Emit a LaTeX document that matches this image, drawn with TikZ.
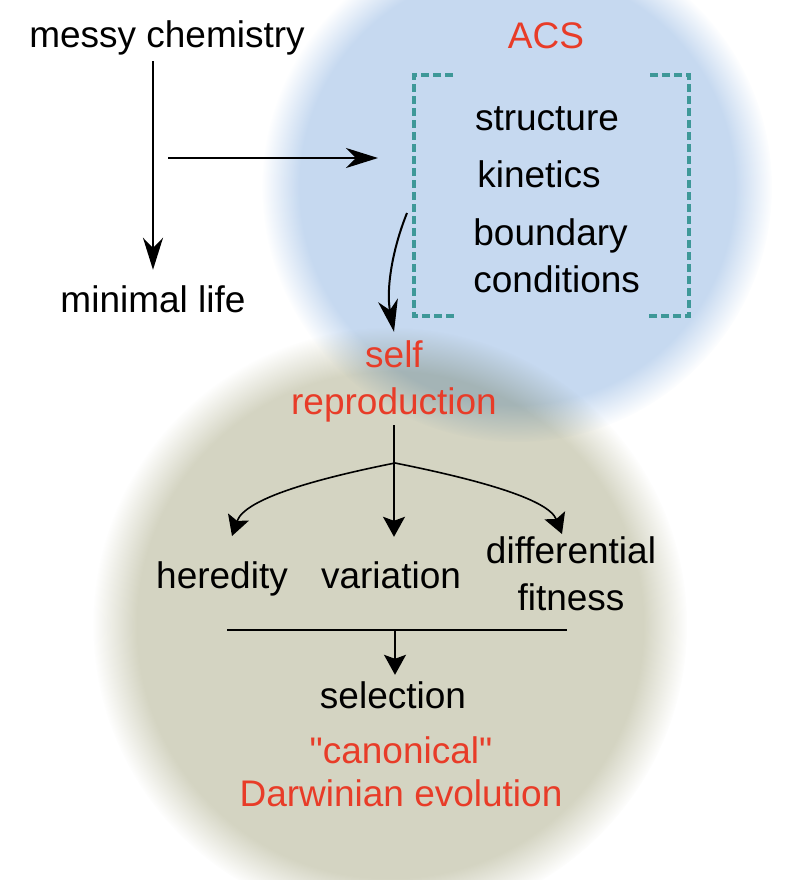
\documentclass[tikz,border=0pt]{standalone}
\usepackage{fontspec}
\setmainfont{Liberation Sans}
\usepackage{xcolor}
\usetikzlibrary{arrows.meta,fadings}
\definecolor{acsblue}{RGB}{198,217,240}
\definecolor{evogray}{RGB}{212,212,194}
\definecolor{acsred}{RGB}{232,60,40}
\definecolor{brackteal}{RGB}{62,152,152}

\begin{document}
\begin{tikzpicture}[x=0.5pt,y=-0.5pt]
            \tikzstyle{every node}+=[inner sep=0pt,font=\fontsize{18.5}{23.5}\selectfont]
            \tikzstyle{word}=[anchor=base,text=black]
            \tikzstyle{redword}=[anchor=base,text=acsred,align=center]
            \tikzstyle{bigarrow}=[line width=1pt,-{Stealth[length=16pt,width=10pt,inset=5pt]}]
            \tikzstyle{smallarrow}=[line width=0.8pt,-{Stealth[length=10pt,width=11pt,inset=2pt]}]
            \tikzstyle{brack}=[brackteal,line width=2pt,dash pattern=on 4pt off 2pt]
            \useasboundingbox (0,0) rectangle (801,880);
            % the two fuzzy discs
            \fill [evogray,path fading=circle with fuzzy edge 15 percent] (390,625) circle (297);
            \begin{scope}[blend mode=multiply]
            \fill [acsblue,path fading=circle with fuzzy edge 15 percent] (517,187) circle (255);
            \end{scope}
            % brackets
            \draw [brack] (453,75) -- (414,75) -- (414,316) -- (457,316);
            \draw [brack] (650,75) -- (689,75) -- (689,316) -- (647,316);
            % texts (two-line nodes sit on their last baseline)
            \node [word] (messy) at (167,47) {messy chemistry};
            \node [word] (minimal) at (153,312) {minimal life};
            \node [redword] (acs) at (546,48) {ACS};
            \node [word] (structure) at (547,130) {structure};
            \node [word] (kinetics) at (539,187) {kinetics};
            \node [word,align=left,anchor=base west] (boundary) at (473,292) {boundary\\conditions};
            \node [redword] (selfrep) at (394,414) {self\\reproduction};
            \node [word] (heredity) at (222,588) {heredity};
            \node [word] (variation) at (391,588) {variation};
            \node [word,align=center] (fitness) at (571,610) {differential\\fitness};
            \node [word] (selection) at (393,708) {selection};
            \node [redword,font=\fontsize{18.5}{21.5}\selectfont] (darwin) at (401,806) {\textquotedbl canonical\textquotedbl\\Darwinian evolution};
            \coordinate (acsin) at (378,158);
            \coordinate (fork) at (168,158);
            \coordinate (curvestart) at (407,213);
            \coordinate (split) at (395,463);
            \coordinate (heretip) at (232,536);
            \coordinate (fittip) at (562,534);
            \coordinate (barl) at (227,630);
            \coordinate (barr) at (567,630);
            % connectors
            \draw [bigarrow] ([yshift=-3pt]messy.south -| minimal) -- ([yshift=7.5pt]minimal.north);
            \draw [bigarrow] (fork) -- (acsin);
            \draw [bigarrow] (curvestart) .. controls (392,250) and (386,290) .. ([yshift=4pt]selfrep.north);
            \draw [smallarrow,shorten <=1.5pt] (selfrep.south) -- ([yshift=12pt]selfrep.south |- variation.north);
            \draw [smallarrow] (split) .. controls (320,478) and (245,498) .. (heretip);
            \draw [smallarrow] (split) .. controls (470,478) and (548,498) .. (fittip);
            \draw [line width=0.8pt] (barl) -- (barr);
            \draw [smallarrow] (split |- barl) -- ([yshift=3pt]split |- selection.north);
\end{tikzpicture}
\end{document}
